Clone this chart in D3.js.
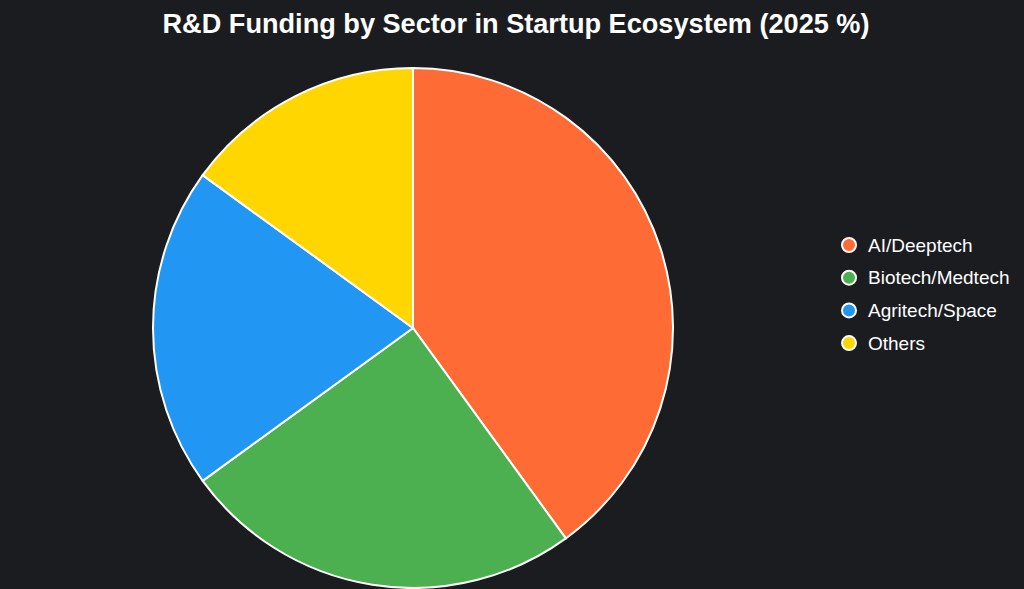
<!DOCTYPE html>
<html><head><meta charset="utf-8">
<script src="https://cdn.jsdelivr.net/npm/d3@7"></script>
<style>html,body{margin:0;padding:0;background:#1b1c1f;}</style>
</head><body>
<svg id="c" width="1024" height="589"></svg>
<script>
const categories = ["AI/Deeptech", "Biotech/Medtech", "Agritech/Space", "Others"];
const values = [40, 25, 20, 15];
const colors = ["#FF6B35", "#4CAF50", "#2196F3", "#FFD600"];

const svg = d3.select("#c");
svg.append("rect").attr("width", 1024).attr("height", 589).attr("fill", "#1b1c1f");

svg.append("text").attr("x", 516).attr("y", 33).attr("text-anchor", "middle")
  .attr("fill", "#fff").attr("font-family", "Liberation Sans, Arial, sans-serif")
  .attr("font-weight", "bold").attr("font-size", 27)
  .attr("textLength", 707).attr("lengthAdjust", "spacingAndGlyphs")
  .text("R&D Funding by Sector in Startup Ecosystem (2025 %)");

const data = categories.map((c, i) => ({ c, v: values[i], col: colors[i] }));
const pie = d3.pie().value(d => d.v).sort(null);
const arc = d3.arc().innerRadius(0).outerRadius(260);
const g = svg.append("g").attr("transform", "translate(413,328)");
g.selectAll("path").data(pie(data)).join("path")
  .attr("d", arc).attr("fill", d => d.data.col)
  .attr("stroke", "#fff").attr("stroke-width", 2);

const lg = svg.append("g").attr("transform", "translate(849,245)");
const row = lg.selectAll("g").data(data).join("g")
  .attr("transform", (d, i) => `translate(0,${i * 32.7})`);
row.append("circle").attr("r", 7).attr("fill", d => d.col)
  .attr("stroke", "#fff").attr("stroke-width", 2);
row.append("text").attr("x", 19).attr("dy", "0.35em")
  .attr("fill", "#fff").attr("font-family", "Liberation Sans, Arial, sans-serif")
  .attr("font-size", 19).text(d => d.c);
</script>
</body></html>
